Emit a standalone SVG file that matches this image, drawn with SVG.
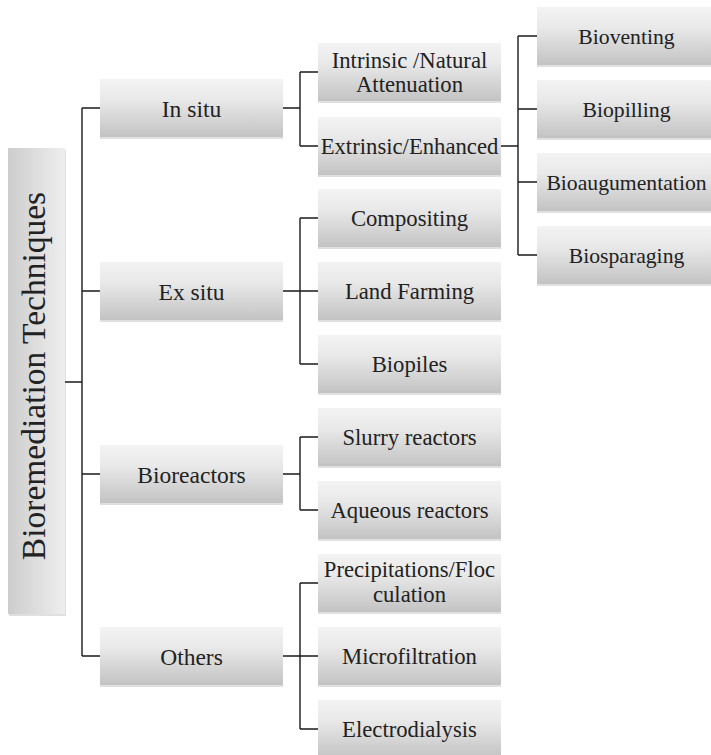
<svg xmlns="http://www.w3.org/2000/svg" width="711" height="755" viewBox="0 0 711 755" font-family="Liberation Serif, Times New Roman, serif">
<defs>
<linearGradient id="gv" x1="0" y1="0" x2="0" y2="1">
<stop offset="0" stop-color="#f3f3f3"/>
<stop offset="0.35" stop-color="#e9e9e9"/>
<stop offset="1" stop-color="#c3c3c3"/>
</linearGradient>
<linearGradient id="gh" x1="0" y1="0" x2="1" y2="0">
<stop offset="0" stop-color="#cdcdcd"/>
<stop offset="1" stop-color="#eeeeee"/>
</linearGradient>
</defs>
<style>
.bx{fill:url(#gv)}
.rb{fill:url(#gh)}
.sd{fill:#000;fill-opacity:0.12}
.tx{fill:#222;text-anchor:middle}
.cn{fill:none;stroke:#1a1a1a;stroke-width:1.4}
tspan{font-family:"Liberation Serif",serif}
</style>
<rect width="711" height="755" fill="#fff"/>
<g id="connectors" class="cn">
<path d="M65,382H82M82,108V656M82,108H100M82,291H100M82,474H100M82,656H100"/>
<path d="M283,108H300M300,72V146M300,72H318M300,146H318"/>
<path d="M283,291H300M300,218V364M300,218H318M300,291H318M300,364H318"/>
<path d="M283,474H300M300,437V510M300,437H318M300,510H318"/>
<path d="M283,656H300M300,583V729M300,583H318M300,656H318M300,729H318"/>
<path d="M501,146H518M518,36V255M518,36H537M518,109H537M518,182H537M518,255H537"/>
</g>
<g id="root"><rect class="sd" x="9" y="150" width="57" height="466"/><rect class="rb" x="8" y="148" width="57" height="466"/><text class="tx" transform="translate(45,376) rotate(-90)" font-size="33.5"><tspan>Bioremediation Techniques</tspan></text></g>
<g id="insitu"><rect class="sd" x="100" y="81" width="183" height="58"/><rect class="bx" x="100" y="79" width="183" height="58"/><text class="tx" x="191.5" y="116.5" font-size="23.5"><tspan>In situ</tspan></text></g>
<g id="exsitu"><rect class="sd" x="100" y="264" width="183" height="58"/><rect class="bx" x="100" y="262" width="183" height="58"/><text class="tx" x="191.5" y="299.5" font-size="23.5"><tspan>Ex situ</tspan></text></g>
<g id="bioreactors"><rect class="sd" x="100" y="447" width="183" height="58"/><rect class="bx" x="100" y="445" width="183" height="58"/><text class="tx" x="191.5" y="482.5" font-size="23.5"><tspan>Bioreactors</tspan></text></g>
<g id="others"><rect class="sd" x="100" y="629" width="183" height="58"/><rect class="bx" x="100" y="627" width="183" height="58"/><text class="tx" x="191.5" y="664.5" font-size="23.5"><tspan>Others</tspan></text></g>
<g id="intrinsic"><rect class="sd" x="318" y="45" width="183" height="58"/><rect class="bx" x="318" y="43" width="183" height="58"/><text class="tx" font-size="22.7"><tspan x="409.5" y="67.5">Intrinsic /Natural</tspan><tspan x="409.5" y="92">Attenuation</tspan></text></g>
<g id="extrinsic"><rect class="sd" x="318" y="119" width="183" height="58"/><rect class="bx" x="318" y="117" width="183" height="58"/><text class="tx" x="409.5" y="154" font-size="22.7"><tspan>Extrinsic/Enhanced</tspan></text></g>
<g id="compositing"><rect class="sd" x="318" y="191" width="183" height="58"/><rect class="bx" x="318" y="189" width="183" height="58"/><text class="tx" x="409.5" y="226" font-size="22.7"><tspan>Compositing</tspan></text></g>
<g id="landfarming"><rect class="sd" x="318" y="264" width="183" height="58"/><rect class="bx" x="318" y="262" width="183" height="58"/><text class="tx" x="409.5" y="299" font-size="22.7"><tspan>Land Farming</tspan></text></g>
<g id="biopiles"><rect class="sd" x="318" y="337" width="183" height="58"/><rect class="bx" x="318" y="335" width="183" height="58"/><text class="tx" x="409.5" y="372" font-size="22.7"><tspan>Biopiles</tspan></text></g>
<g id="slurry"><rect class="sd" x="318" y="410" width="183" height="58"/><rect class="bx" x="318" y="408" width="183" height="58"/><text class="tx" x="409.5" y="445" font-size="22.7"><tspan>Slurry reactors</tspan></text></g>
<g id="aqueous"><rect class="sd" x="318" y="483" width="183" height="58"/><rect class="bx" x="318" y="481" width="183" height="58"/><text class="tx" x="409.5" y="518" font-size="22.7"><tspan>Aqueous reactors</tspan></text></g>
<g id="precipitations"><rect class="sd" x="318" y="556" width="183" height="58"/><rect class="bx" x="318" y="554" width="183" height="58"/><text class="tx" font-size="22.7"><tspan x="409.5" y="577">Precipitations/Floc</tspan><tspan x="409.5" y="602">culation</tspan></text></g>
<g id="microfiltration"><rect class="sd" x="318" y="629" width="183" height="58"/><rect class="bx" x="318" y="627" width="183" height="58"/><text class="tx" x="409.5" y="664" font-size="22.7"><tspan>Microfiltration</tspan></text></g>
<g id="electrodialysis"><rect class="sd" x="318" y="702" width="183" height="58"/><rect class="bx" x="318" y="700" width="183" height="58"/><text class="tx" x="409.5" y="737" font-size="22.7"><tspan>Electrodialysis</tspan></text></g>
<g id="bioventing"><rect class="sd" x="537" y="9" width="178" height="58"/><rect class="bx" x="537" y="7" width="178" height="58"/><text class="tx" x="626.5" y="44" font-size="21.7"><tspan>Bioventing</tspan></text></g>
<g id="biopilling"><rect class="sd" x="537" y="82" width="178" height="58"/><rect class="bx" x="537" y="80" width="178" height="58"/><text class="tx" x="626.5" y="117" font-size="21.7"><tspan>Biopilling</tspan></text></g>
<g id="bioaugumentation"><rect class="sd" x="537" y="155" width="178" height="58"/><rect class="bx" x="537" y="153" width="178" height="58"/><text class="tx" x="626.5" y="190" font-size="21.7"><tspan>Bioaugumentation</tspan></text></g>
<g id="biosparaging"><rect class="sd" x="537" y="228" width="178" height="58"/><rect class="bx" x="537" y="226" width="178" height="58"/><text class="tx" x="626.5" y="263" font-size="21.7"><tspan>Biosparaging</tspan></text></g>
</svg>
